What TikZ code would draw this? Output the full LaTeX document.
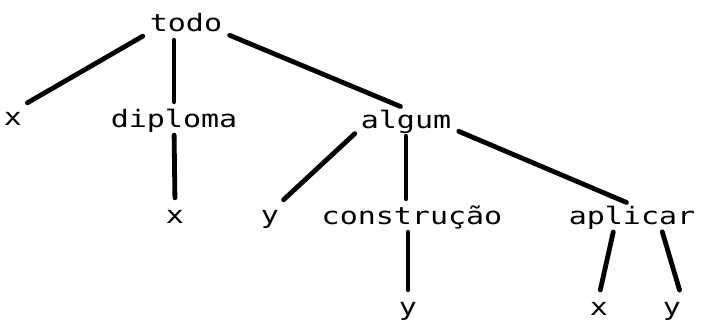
\documentclass[tikz,border=0pt]{standalone}
\usepackage{fontspec}
\usepackage{tikz}
\newfontfamily\arvorefont[FakeStretch=1.25]{DejaVu Sans Mono}

\begin{document}
\begin{tikzpicture}[x=1pt,y=-1pt,
		palavra/.style={font=\arvorefont\fontsize{24}{24}\selectfont, inner sep=0pt, anchor=base, text height=19pt, text depth=0pt},
		ramo/.style={line width=4.8pt, line cap=round, shorten <=8pt, shorten >=6pt}]
	\useasboundingbox (0,0) rectangle (701,321);
	
	% nós da árvore (linha de base de cada nível)
	\node[palavra] (todo) at (186,32) {todo};
	\node[palavra] (xa) at (13,125) {x};
	\node[palavra] (diploma) at (174,127) {diploma};
	\node[palavra] (algum) at (406,128) {algum};
	\node[palavra] (xb) at (175,223) {x};
	\node[palavra] (ya) at (270,223) {y};
	\node[palavra] (construcao) at (412,224) {construção};
	\node[palavra] (aplicar) at (632,224) {aplicar};
	\node[palavra] (yb) at (408,315) {y};
	\node[palavra] (xc) at (599,315) {x};
	\node[palavra] (yc) at (672,315) {y};
	
	% ramos
	\draw[ramo] (todo.south west) -- (xa.north east);
	\draw[ramo] (diploma |- todo.south) -- (diploma.north);
	\draw[ramo] (todo.south east) -- (algum.north);
	\draw[ramo] (diploma.south) -- (xb.north);
	\draw[ramo] (algum.south west) -- (ya.north east);
	\draw[ramo] (algum.south) -- (algum.south |- construcao.north);
	\draw[ramo] (algum.south east) -- (aplicar.north);
	\draw[ramo] (yb |- construcao.south) -- (yb.north);
	\draw[ramo] ([xshift=-17pt]aplicar.south) -- (xc.north);
	\draw[ramo] ([xshift=28pt]aplicar.south) -- (yc.north east);
\end{tikzpicture}
\end{document}
